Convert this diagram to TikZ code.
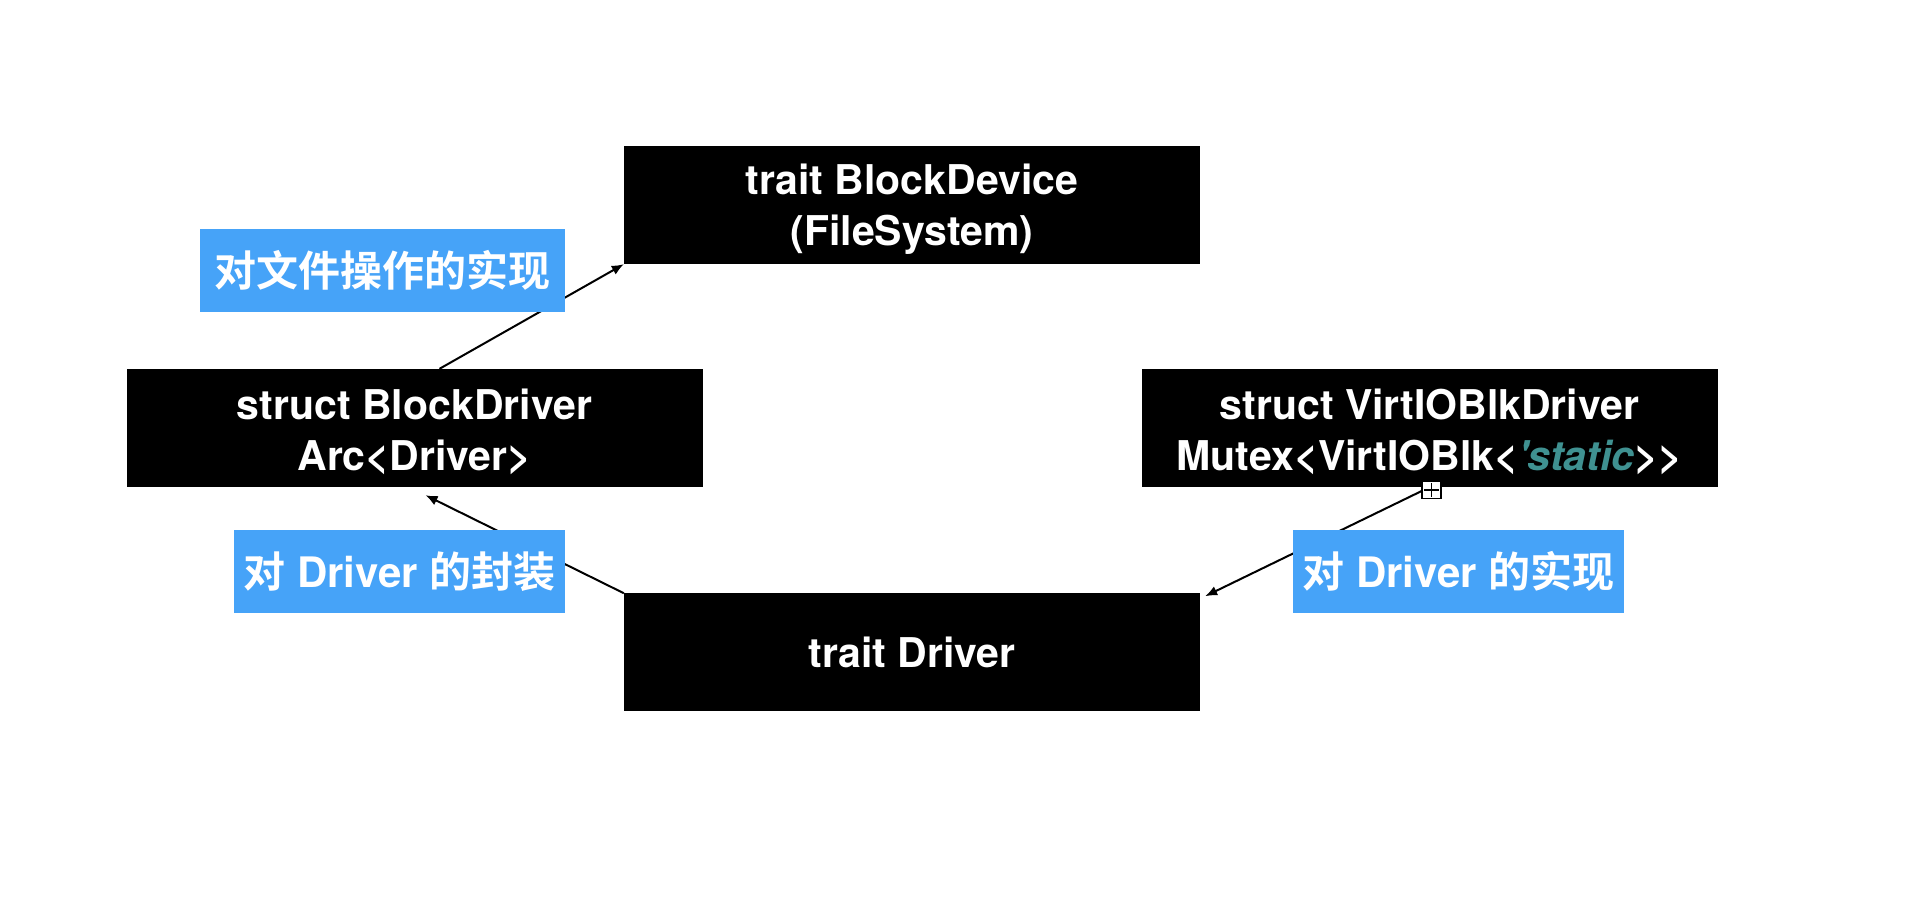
\documentclass[tikz,border=0pt]{standalone}
\usepackage{fontspec}
\setmainfont{TeX Gyre Heros}
\newfontfamily\cjk{Noto Sans CJK SC}[BoldFont=* Bold]
\usetikzlibrary{positioning, arrows.meta, calc}
\definecolor{noteblue}{HTML}{46A3F8}
\definecolor{lifeteal}{HTML}{3F9191}
\tikzset{
    type_node/.style={rectangle, fill=black, text=white, minimum width=576pt, minimum height=118pt, text centered, align=center, inner sep=0pt, font=\bfseries\fontsize{41}{51}\selectfont},
    two_line/.style={text height=89pt},
    note_node/.style={rectangle, fill=noteblue, text=white, minimum height=83pt, text centered, align=center, inner sep=0pt, font=\bfseries\fontsize{42}{50}\selectfont},
    arrow/.style={line width=2pt, ->, >={Latex[length=12pt, width=10pt]}},
    handle_box/.style={rectangle, draw=black, fill=white, line width=1.5pt, minimum width=19pt, minimum height=17pt, inner sep=0pt},
}

\begin{document}
\begin{tikzpicture}[x=1pt, y=-1pt, node distance=1cm]
      \useasboundingbox (0,0) rectangle (1920,910);

      \node (device) at (912,205) [type_node, two_line]{trait BlockDevice\\(FileSystem)};
      \node (driver) [type_node, below = 329pt of device]{trait Driver};
      \node (block_driver) at (414.5,428) [type_node, two_line]{struct BlockDriver\\Arc<Driver>};
      \node (virtio) at (1429.5,428) [type_node, two_line]{struct VirtIOBlkDriver\\Mutex<VirtIOBlk<{\color{lifeteal}\itshape\textquotesingle static}>{}>};

      \draw [arrow] ([xshift=25pt]block_driver.north) -- (device.south west);
      \draw [arrow] (driver.north west) -- ([xshift=11pt, yshift=-8pt]block_driver.south);
      \draw [arrow] (virtio.south) -- ([xshift=5pt, yshift=-3pt]driver.north east);

      \node (handle) at ([xshift=2pt, yshift=-3pt]virtio.south) [handle_box]{};
      \draw [line width=1.5pt] ([yshift=-2pt]handle.north) -- ([yshift=2pt]handle.south);
      \draw [line width=1.5pt] ([xshift=3pt]handle.west) -- ([xshift=-3pt]handle.east);

      \node (file_note) at (382.5,270.5) [note_node, minimum width=365pt]{\cjk 对文件操作的实现};
      \node (wrap_note) at (399.5,571.5) [note_node, minimum width=331pt]{{\cjk 对} Driver {\cjk 的封装}};
      \node (impl_note) at (1458.5,571.5) [note_node, minimum width=331pt]{{\cjk 对} Driver {\cjk 的实现}};
   \end{tikzpicture}
\end{document}
